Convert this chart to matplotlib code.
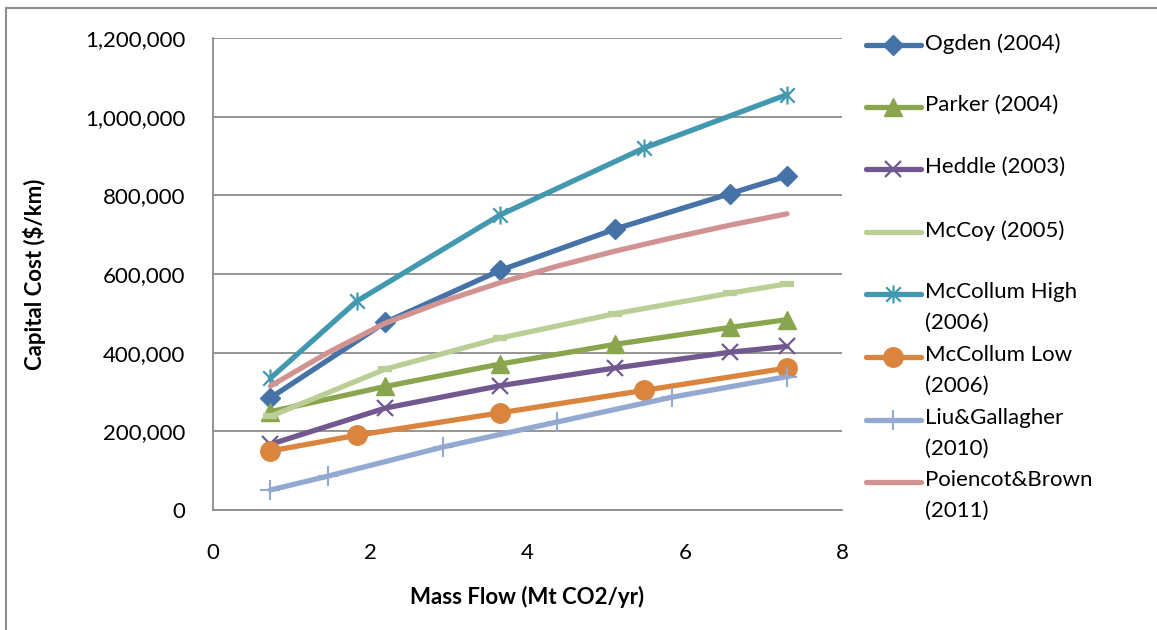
import matplotlib
matplotlib.use("Agg")
import matplotlib.pyplot as plt
from matplotlib.lines import Line2D
from matplotlib.patches import Rectangle
from matplotlib.path import Path
from matplotlib.ticker import FuncFormatter

plt.rcParams['font.family'] = ['Lato', 'DejaVu Sans']

# mass flow (Mt CO2/yr)
x_main = [0.73, 2.19, 3.65, 5.11, 6.57, 7.3]
x_mccollum = [0.73, 1.83, 3.65, 5.48, 7.3]
x_liu = [0.73, 1.46, 2.92, 4.38, 5.84, 7.3]
x_poiencot = [0.73, 1.46, 2.19, 2.92, 3.65, 4.38, 5.11, 5.84, 6.57, 7.3]

# capital cost ($/km)
ogden = [285000, 477000, 609000, 714000, 804000, 849000]
parker = [250000, 314000, 371000, 421000, 464000, 484000]
heddle = [167000, 259000, 316000, 361000, 401000, 416000]
mccoy = [238000, 358000, 437000, 499000, 551000, 575000]
mccollum_high = [335000, 531000, 750000, 920000, 1056000]
mccollum_low = [150000, 190000, 247000, 304000, 361000]
liu = [51000, 86000, 160000, 224000, 287000, 339000]
poiencot = [315000, 400000, 475000, 530000, 578000, 620000, 658000, 692000, 724000, 753000]

labels = ["Ogden (2004)", "Parker (2004)", "Heddle (2003)", "McCoy (2005)",
          "McCollum High\n(2006)", "McCollum Low\n(2006)", "Liu&Gallagher\n(2010)",
          "Poiencot&Brown\n(2011)"]

# excel style asterisk: vertical bar plus an X
star = Path([(0, -1), (0, 1), (-0.8, -0.8), (0.8, 0.8), (-0.8, 0.8), (0.8, -0.8)],
            [Path.MOVETO, Path.LINETO, Path.MOVETO, Path.LINETO, Path.MOVETO, Path.LINETO])

series = [
    (x_main, ogden, '#4572A7', dict(marker='D', ms=10)),
    (x_main, parker, '#89A54E', dict(marker='^', ms=13)),
    (x_main, heddle, '#71588F', dict(marker='x', ms=12, mew=1.6)),
    (x_main, mccoy, '#B9CF96', dict(marker='_', ms=10, mew=4.5)),
    (x_mccollum, mccollum_high, '#4198AF', dict(marker=star, ms=13, mew=1.6)),
    (x_mccollum, mccollum_low, '#DB843D', dict(marker='o', ms=14)),
    (x_liu, liu, '#93A9CF', dict(marker='+', ms=14, mew=1.5)),
    (x_poiencot, poiencot, '#D19392', dict(marker=None)),
]

W, H = 1157, 630
FS = 16
fig = plt.figure(figsize=(W / 100, H / 100), dpi=100)
ax = fig.add_axes([213 / W, 1 - 510 / H, (842 - 213) / W, (510 - 38) / H])

# chart frame
fig.patches.append(Rectangle((6 / W, -0.1), 1.2, 1 - 8 / H + 0.1, transform=fig.transFigure,
                             fill=False, edgecolor='#8c8c8c', lw=1.5))

for xs, ys, col, st in series:
    ax.plot(xs, ys, lw=3.8, color=col, markeredgecolor=col, solid_capstyle='round',
            solid_joinstyle='round', zorder=3, **st)

ax.set_xlim(0, 8)
ax.set_ylim(0, 1200000)
ax.set_xticks([0, 2, 4, 6, 8])
ax.set_yticks(range(0, 1200001, 200000))
ax.yaxis.set_major_formatter(FuncFormatter(lambda v, p: f"{int(v):,}"))
ax.grid(axis='y', color='#8c8c8c', lw=1.3)
ax.set_axisbelow(True)
for s in ['top', 'right']:
    ax.spines[s].set_visible(False)
for s in ['left', 'bottom']:
    ax.spines[s].set_color('#8c8c8c')
    ax.spines[s].set_linewidth(1.3)
ax.tick_params(length=0, labelsize=FS, colors='black')
ax.tick_params(axis='y', pad=20)
ax.tick_params(axis='x', pad=24)
ax.set_xlabel("Mass Flow (Mt CO2/yr)", fontsize=FS, fontweight='bold', labelpad=16)
ax.set_ylabel("Capital Cost ($/km)", fontsize=FS, fontweight='bold', labelpad=28)

# legend drawn by hand so the handle sits on the first line of the label
leg_y = [45, 107, 169, 232, 294, 357, 420, 482]
for (xs, ys, col, st), lab, ly in zip(series, labels, leg_y):
    yf = 1 - ly / H
    fig.add_artist(Line2D([866 / W, 921 / W], [yf, yf], transform=fig.transFigure,
                          lw=3.8, solid_capstyle='round', color=col))
    if st['marker'] is not None and st['marker'] != '_':
        fig.add_artist(Line2D([893 / W], [yf], transform=fig.transFigure, ls='none',
                              color=col, markeredgecolor=col, **st))
    fig.text(925 / W, 1 - (ly - 12) / H, lab, fontsize=FS, va='top', ha='left',
             linespacing=1.65)

fig.savefig("out.png", dpi=100)
